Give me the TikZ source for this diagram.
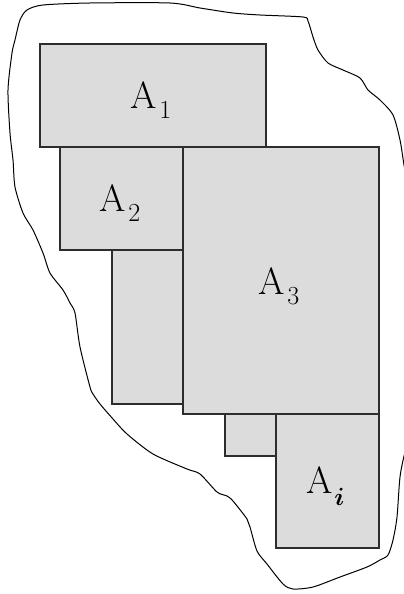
\documentclass[tikz,border=0pt]{standalone}
\usepackage{amsmath}
\usetikzlibrary{calc}
\definecolor{boxfill}{RGB}{220,220,220}
\definecolor{boxline}{RGB}{45,45,45}
\tikzset{
  areabox/.style={fill=boxfill, draw=boxline, line width=1.2pt},
  arealabel/.style={inner sep=0pt, outer sep=0pt, anchor=base west,
    font=\fontsize{38}{40}\selectfont},
  outline/.style={draw=black, line width=1pt},
}
\newcommand{\areaname}[1]{A\kern3pt\raisebox{-10pt}{\fontsize{26}{26}\selectfont #1}}
\begin{document}
\begin{tikzpicture}[x=1pt, y=-1pt]
  \useasboundingbox (0,0) rectangle (404,594);

  % irregular region enclosing the rectangles (runs past the right border)
  \begin{scope}
    \clip (0,0) rectangle (404,594);
    \draw[outline] plot[smooth cycle, tension=0.45] coordinates {
      (43,5) (90,3) (170,3) (200,8) (233,13) (260,15) (303,17) (308,21)
      (313,37) (318,50) (328,63) (343,70) (360,78) (368,90) (380,100)
      (393,115) (400,140) (404,165) (410,200) (416,300) (414,420)
      (405,452) (400,477) (397,517) (393,540) (388,555) (380,560)
      (367,567) (340,577) (313,587) (293,589) (283,584) (267,564)
      (257,551) (250,527) (247,519) (233,501) (227,496) (217,492)
      (200,474) (187,469) (153,454) (127,434) (113,419) (100,404)
      (93,394) (90,387) (80,347) (75,313) (70,303) (63,290) (50,273)
      (43,253) (33,230) (23,213) (15,187) (13,160) (10,133) (8,90)
      (12,53) (15,40) (20,20) (27,10)
    };
  \end{scope}

  % rectangles
  \draw[areabox] (40,44) rectangle (266,147);
  \draw[areabox] (60,147) rectangle (183,250);
  \draw[areabox] (112,250) rectangle (183,404);
  \draw[areabox] (183,147) rectangle (379,414);
  \draw[areabox] (225,414) rectangle (276,456);
  \draw[areabox] (276,414) rectangle (379,548);

  % labels
  \node[arealabel] (a1) at (130,108) {\areaname{1}};
  \node[arealabel] (a2) at (99,211) {\areaname{2}};
  \node[arealabel] (a3) at (258,294) {\areaname{3}};
  \node[arealabel] (ai) at (306,493) {A\kern2pt\raisebox{-12pt}{\fontsize{28}{28}\selectfont$\boldsymbol{i}$}};
\end{tikzpicture}
\end{document}
